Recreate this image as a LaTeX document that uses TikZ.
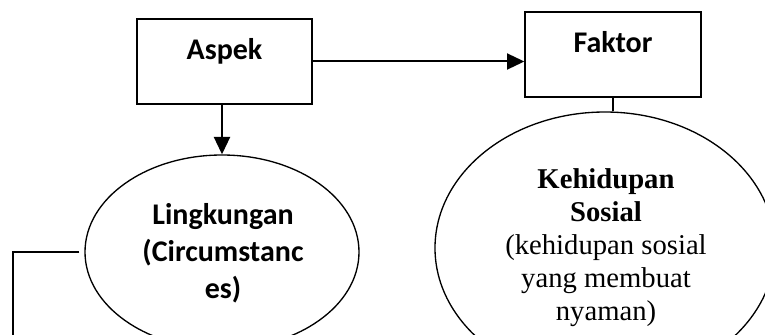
\documentclass[tikz,border=0pt]{standalone}
\usepackage{fontspec}
\setmainfont{Liberation Serif}
\newfontfamily\calibrifont{Carlito}
\usetikzlibrary{shapes.geometric,arrows.meta}

\begin{document}
\begin{tikzpicture}[x=0.75pt,y=0.75pt,yscale=-1,xscale=1,
    box/.style={draw,line width=1.5pt,rectangle,inner sep=0pt,minimum width=131.5pt,
        text height=30.5pt,text depth=33.25pt,font=\calibrifont\bfseries\fontsize{22.5}{28}\selectfont},
    oval/.style={draw,line width=1pt,ellipse,inner sep=0pt},
    sanslabel/.style={inner sep=0pt,align=center,font=\calibrifont\bfseries\fontsize{22.5}{28}\selectfont},
    seriflabel/.style={inner sep=0pt,align=center,font=\fontsize{21.5}{24.75}\selectfont},
    arrowline/.style={line width=1.5pt,-{Triangle[length=13pt,width=12pt]}},
    plainline/.style={line width=1.2pt}]
    \path[use as bounding box] (0,0) rectangle (765,335);

    %Shape: Rectangle
    \node[box] (aspek) at (224.5,61.5) {Aspek};
    %Shape: Rectangle
    \node[box] (faktor) at (613,54.5) {Faktor};
    %Shape: Ellipse
    \node[oval,minimum width=205.5pt,minimum height=145.5pt] (lingk) at (222,252) {};
    %Shape: Ellipse
    \node[oval,minimum width=255pt,minimum height=204pt] (sosial) at (605,248) {};

    % Text Node
    \node[sanslabel,anchor=north] (lingk text) at (223,203) {Lingkungan\\(Circumstanc\\es)};
    % Text Node
    \node[seriflabel,anchor=north] (sosial text) at (606,168) {\textbf{Kehidupan}\\\textbf{Sosial}\\(kehidupan sosial\\yang membuat\\nyaman)};

    %Straight Lines
    \draw[arrowline] (aspek.east) -- (aspek.east -| faktor.west);
    %Straight Lines
    \draw[arrowline] (aspek.south -| lingk.north) -- (lingk.north);
    %Straight Lines
    \draw[plainline] (faktor.south) -- (faktor.south |- sosial.north);
    %Straight Lines
    \coordinate (corner) at (13,252);
    \coordinate (low end) at (13,335);
    \draw[plainline,shorten <=3.75pt] (lingk.west) -- (corner) -- (low end);
\end{tikzpicture}
\end{document}
